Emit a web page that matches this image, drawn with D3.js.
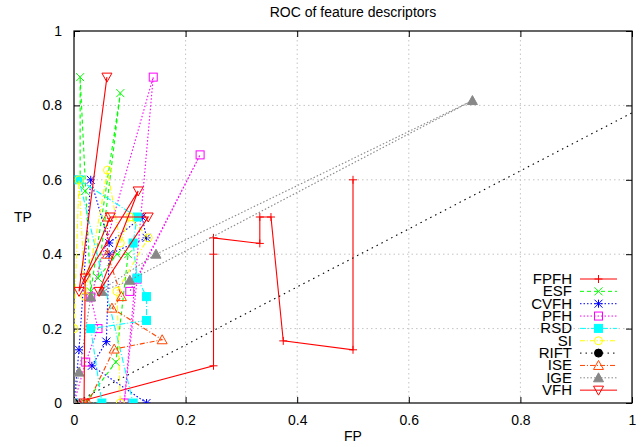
<!DOCTYPE html>
<html>
<head>
<meta charset="utf-8">
<script src="https://cdn.jsdelivr.net/npm/d3@7"></script>
<style>
  body { margin: 0; background: #fff; }
  text { font-family: "Liberation Sans", Arial, sans-serif; fill: #000; }
</style>
</head>
<body>
<div id="chart"></div>
<script>
// ROC points per descriptor, [FP, TP] in plotted order
var fpfh = [[0,0],[0.25,0.1],[0.25,0.4],[0.25,0.444],[0.333,0.429],[0.333,0.5],[0.353,0.5],[0.375,0.167],[0.5,0.143],[0.5,0.6]];
var esf  = [[0.02,0],[0.075,0.11],[0.097,0.4],[0.077,0.4],[0.043,0.336],[0.083,0.833],[0.03,0.3],[0.011,0.876],[0.011,0.6],[0.02,0.57]];
var cvfh = [[0,0],[0.009,0.143],[0.03,0.6],[0.063,0.43],[0.122,0.5],[0.13,0.444],[0.063,0.4],[0.058,0.165],[0.032,0.1],[0.13,0]];
var pfh  = [[0,0],[0.021,0.11],[0.043,0.2],[0.03,0.285],[0.142,0.876],[0.09,0],[0.113,0.333],[0.226,0.667],[0.1,0.3]];
var rsd  = [[0,0],[0.05,0],[0.03,0.2],[0.13,0.222],[0.13,0.286],[0.113,0.336],[0.106,0.43],[0.113,0.5],[0.009,0.6],[0.106,0]];
var si   = [[0,0.2],[0.009,0.6],[0.02,0.286],[0.06,0.626],[0.083,0.43],[0.1,0.5],[0.133,0.444],[0.077,0.3],[0.083,0]];
var rift = [[0,0],[1,0.78]];
var ise  = [[0,0],[0.025,0],[0.072,0.145],[0.158,0.17],[0.068,0.255],[0.085,0.286],[0.06,0.4],[0.06,0.5]];
var ige  = [[0,0],[0.009,0.083],[0.03,0.285],[0.147,0.4],[0.714,0.813],[0.1,0.33],[0.05,0.3]];
var vfh  = [[0.018,0],[0.02,0.336],[0.115,0.57],[0.045,0.3],[0.133,0.5],[0.065,0.5],[0.009,0.3],[0.059,0.876]];

var names = ["FPFH","ESF","CVFH","PFH","RSD","SI","RIFT","ISE","IGE","VFH"];
var xTicks = [0, 0.2, 0.4, 0.6, 0.8, 1];
var yTicks = [0, 0.2, 0.4, 0.6, 0.8, 1];

(function() {
var series = [
  {name: names[0], data: fpfh, color: "#ff0000", dash: null,      marker: "plus"},
  {name: names[1], data: esf,  color: "#00ff00", dash: "4,3",     marker: "cross"},
  {name: names[2], data: cvfh, color: "#0000ff", dash: "1.5,2",   marker: "star"},
  {name: names[3], data: pfh,  color: "#ff00ff", dash: "1.5,2",   marker: "square"},
  {name: names[4], data: rsd,  color: "#00ffff", dash: "6,2,1,2", marker: "fsquare"},
  {name: names[5], data: si,   color: "#ffff00", dash: "5,2,1,2", marker: "circle"},
  {name: names[6], data: rift, color: "#000000", dash: "1.5,4",   marker: "fcircle"},
  {name: names[7], data: ise,  color: "#ff4500", dash: "5,2,1,2", marker: "triangle"},
  {name: names[8], data: ige,  color: "#888888", dash: "1.5,2",   marker: "ftriangle"},
  {name: names[9], data: vfh,  color: "#ff0000", dash: null,      marker: "dtriangle"}
];

var W = 644, H = 447;
var pL = 74, pR = 632, pT = 31, pB = 403;

var svg = d3.select("#chart").append("svg")
  .attr("width", W).attr("height", H);

var x = d3.scaleLinear().domain([0, 1]).range([pL, pR]);
var y = d3.scaleLinear().domain([0, 1]).range([pB, pT]);

// grid
svg.append("g").selectAll("line")
  .data(xTicks.slice(1, -1)).enter().append("line")
  .attr("x1", function(d) { return x(d); }).attr("x2", function(d) { return x(d); })
  .attr("y1", pT).attr("y2", pB)
  .style("stroke", "#c4c4c4").style("stroke-dasharray", "1.5,3");
svg.append("g").selectAll("line")
  .data(yTicks.slice(1, -1)).enter().append("line")
  .attr("x1", pL).attr("x2", pR)
  .attr("y1", function(d) { return y(d); }).attr("y2", function(d) { return y(d); })
  .style("stroke", "#c4c4c4").style("stroke-dasharray", "1.5,3");

// axes with inward ticks (mirrored)
svg.append("g").attr("transform", "translate(0," + pB + ")")
  .call(d3.axisBottom(x).tickValues(xTicks).tickSize(-6).tickPadding(12).tickFormat(d3.format("")));
svg.append("g").attr("transform", "translate(" + pL + ",0)")
  .call(d3.axisLeft(y).tickValues(yTicks).tickSize(-6).tickPadding(12).tickFormat(d3.format("")));
svg.append("g").attr("transform", "translate(0," + pT + ")")
  .call(d3.axisTop(x).tickValues(xTicks).tickSize(-6).tickFormat(""));
svg.append("g").attr("transform", "translate(" + pR + ",0)")
  .call(d3.axisRight(y).tickValues(yTicks).tickSize(-6).tickFormat(""));
svg.selectAll(".domain").remove();
svg.selectAll(".tick line").style("stroke", "#000");
svg.selectAll(".tick text").style("font-size", "14px").style("font-family", "Liberation Sans, Arial, sans-serif");

svg.append("rect")
  .attr("x", pL).attr("y", pT)
  .attr("width", pR - pL).attr("height", pB - pT)
  .style("fill", "none").style("stroke", "#000").style("stroke-width", 1.2);

// clip for data
svg.append("clipPath").attr("id", "clip").append("rect")
  .attr("x", pL).attr("y", pT).attr("width", pR - pL).attr("height", pB - pT);

var line = d3.line()
  .x(function(d) { return x(d[0]); })
  .y(function(d) { return y(d[1]); });

function drawMarker(g, type, cx, cy, color) {
  var s = 4;
  if (type === "plus") {
    g.append("path").attr("d", "M" + (cx - s) + "," + cy + "H" + (cx + s) + "M" + cx + "," + (cy - s) + "V" + (cy + s))
      .style("stroke", color).style("fill", "none");
  } else if (type === "cross") {
    g.append("path").attr("d", "M" + (cx - s) + "," + (cy - s) + "L" + (cx + s) + "," + (cy + s) + "M" + (cx - s) + "," + (cy + s) + "L" + (cx + s) + "," + (cy - s))
      .style("stroke", color).style("fill", "none");
  } else if (type === "star") {
    g.append("path").attr("d", "M" + (cx - s) + "," + cy + "H" + (cx + s) + "M" + cx + "," + (cy - s) + "V" + (cy + s) +
      "M" + (cx - s) + "," + (cy - s) + "L" + (cx + s) + "," + (cy + s) + "M" + (cx - s) + "," + (cy + s) + "L" + (cx + s) + "," + (cy - s))
      .style("stroke", color).style("fill", "none");
  } else if (type === "square" || type === "fsquare") {
    g.append("rect").attr("x", cx - s).attr("y", cy - s).attr("width", 2 * s).attr("height", 2 * s)
      .style("stroke", color).style("fill", type === "fsquare" ? color : "none");
  } else if (type === "circle" || type === "fcircle") {
    g.append("circle").attr("cx", cx).attr("cy", cy).attr("r", s)
      .style("stroke", color).style("fill", type === "fcircle" ? color : "none");
  } else if (type === "triangle" || type === "ftriangle") {
    g.append("path").attr("d", "M" + cx + "," + (cy - s - 1) + "L" + (cx + s + 1) + "," + (cy + s) + "L" + (cx - s - 1) + "," + (cy + s) + "Z")
      .style("stroke", color).style("fill", type === "ftriangle" ? color : "none");
  } else if (type === "dtriangle") {
    g.append("path").attr("d", "M" + cx + "," + (cy + s + 1) + "L" + (cx + s + 1) + "," + (cy - s) + "L" + (cx - s - 1) + "," + (cy - s) + "Z")
      .style("stroke", color).style("fill", "none");
  }
}

var plot = svg.append("g").attr("clip-path", "url(#clip)");
series.forEach(function(s) {
  var g = plot.append("g");
  g.append("path").datum(s.data).attr("d", line)
    .style("fill", "none").style("stroke", s.color).style("stroke-width", 1.1)
    .style("stroke-dasharray", s.dash);
  // points lying on the right border are not marked
  s.data.filter(function(d) { return d[0] < 1; })
    .forEach(function(d) { drawMarker(g, s.marker, x(d[0]), y(d[1]), s.color); });
});

// legend
var legY0 = 279, legStep = 12.35;
var leg = svg.append("g");
series.forEach(function(s, i) {
  var ly = legY0 + i * legStep;
  leg.append("text").attr("x", 572).attr("y", ly + 5).attr("text-anchor", "end")
    .style("font-size", "15px").text(s.name);
  leg.append("line").attr("x1", 580).attr("x2", 617).attr("y1", ly).attr("y2", ly)
    .style("stroke", s.color).style("stroke-dasharray", s.dash);
  drawMarker(leg, s.marker, 598.5, ly, s.color);
});

// titles
svg.append("text").attr("x", 353).attr("y", 17).attr("text-anchor", "middle")
  .style("font-size", "14px").text("ROC of feature descriptors");
svg.append("text").attr("x", 353).attr("y", 441).attr("text-anchor", "middle")
  .style("font-size", "14px").text("FP");
svg.append("text").attr("x", 23).attr("y", 222).attr("text-anchor", "middle")
  .style("font-size", "14px").text("TP");
})();
</script>
</body>
</html>
